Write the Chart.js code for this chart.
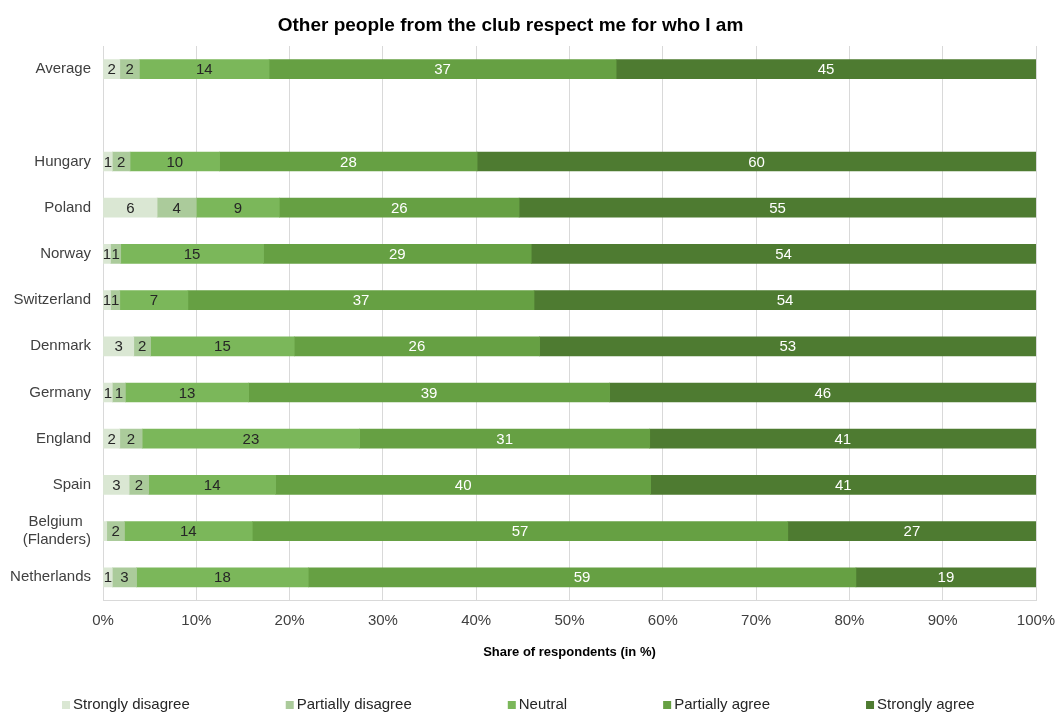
<!DOCTYPE html>
<html><head><meta charset="utf-8">
<script src="https://cdn.jsdelivr.net/npm/chart.js@4"></script>
<style>html,body{margin:0;padding:0;background:#fff}#wrap{position:relative;width:1056px;height:713px}</style>
</head><body><div id="wrap"><canvas id="c" width="1056" height="713"></canvas></div>
<script>
const chartTitle = 'Other people from the club respect me for who I am';
const axisTitle = 'Share of respondents (in %)';
const categories = ['Average', '', 'Hungary', 'Poland', 'Norway', 'Switzerland', 'Denmark', 'Germany', 'England', 'Spain', ['Belgium\u00a0\u00a0', '(Flanders)'], 'Netherlands'];
const seriesNames = ['Strongly disagree', 'Partially disagree', 'Neutral', 'Partially agree', 'Strongly agree'];
const stronglyDisagree  = [1.8, null, 1.0, 5.8, 0.8, 0.8, 3.3, 1.0, 1.8, 2.8, 0.4, 1.0];
const partiallyDisagree = [2.1, null, 1.9, 4.2, 1.1, 1.0, 1.8, 1.4, 2.4, 2.1, 1.9, 2.6];
const neutral           = [13.9, null, 9.6, 8.9, 15.3, 7.3, 15.4, 13.2, 23.3, 13.6, 13.7, 18.4];
const partiallyAgree    = [37.2, null, 27.6, 25.7, 28.7, 37.1, 26.3, 38.7, 31.1, 40.2, 57.4, 58.7];
const stronglyAgree     = [45.0, null, 59.9, 55.4, 54.1, 53.8, 53.2, 45.7, 41.4, 41.3, 26.6, 19.3];
const seriesColors = ['#dae7d3', '#abcb9b', '#7bb75a', '#66a043', '#4e7b31'];
const labelColors = ['#262626', '#262626', '#262626', '#ffffff', '#ffffff'];
const allSeries = [stronglyDisagree, partiallyDisagree, neutral, partiallyAgree, stronglyAgree];
const FONT = '"Liberation Sans", Arial, sans-serif';

const valueLabels = {
  id: 'valueLabels',
  afterDatasetsDraw(chart) {
    const ctx = chart.ctx;
    chart.data.datasets.forEach((ds, i) => {
      const meta = chart.getDatasetMeta(i);
      meta.data.forEach((bar, j) => {
        const v = ds.data[j];
        if (v == null) return;
        const r = Math.round(v);
        if (r < 1) return;
        const p = bar.getProps(['x', 'base', 'y'], true);
        ctx.save();
        ctx.font = '15px ' + FONT;
        ctx.fillStyle = labelColors[i];
        ctx.textAlign = 'center';
        ctx.textBaseline = 'middle';
        ctx.fillText(String(r), (p.x + p.base) / 2, p.y + 1);
        ctx.restore();
      });
    });
  }
};

const titleAndLegend = {
  id: 'titleAndLegend',
  afterDraw(chart) {
    const ctx = chart.ctx;
    ctx.save();
    ctx.font = 'bold 19px ' + FONT;
    ctx.fillStyle = '#000';
    ctx.textAlign = 'center';
    ctx.textBaseline = 'alphabetic';
    ctx.fillText(chartTitle, 510.5, 31);
    ctx.font = '15px ' + FONT;
    ctx.textAlign = 'left';
    ctx.textBaseline = 'middle';
    let x = 62;
    const y = 705;
    seriesNames.forEach((name, i) => {
      ctx.fillStyle = seriesColors[i];
      ctx.fillRect(x, y - 4, 8, 8);
      ctx.fillStyle = '#262626';
      ctx.fillText(name, x + 11, y);
      x += 11 + ctx.measureText(name).width + 96;
    });
    ctx.restore();
  }
};

new Chart(document.getElementById('c'), {
  type: 'bar',
  data: {
    labels: categories,
    datasets: allSeries.map((d, i) => ({
      label: seriesNames[i],
      data: d,
      backgroundColor: seriesColors[i],
      borderWidth: 0,
      barThickness: 19
    }))
  },
  options: {
    indexAxis: 'y',
    responsive: false,
    animation: false,
    devicePixelRatio: 1,
    layout: { padding: { top: 46, right: 20, bottom: 49, left: 0 } },
    plugins: { legend: { display: false }, title: { display: false }, tooltip: { enabled: false } },
    scales: {
      x: {
        stacked: true,
        min: 0, max: 100,
        ticks: { stepSize: 10, callback: v => v + '%', padding: 11, color: '#404040', font: { family: FONT, size: 15 } },
        grid: { color: '#d9d9d9', drawTicks: false },
        border: { color: '#d9d9d9' },
        title: { display: true, text: axisTitle, color: '#000', font: { family: FONT, size: 13, weight: 'bold' }, padding: { top: 4, bottom: 4 } },
        afterFit(scale) { scale.paddingRight = 0; scale.paddingLeft = 0; }
      },
      y: {
        stacked: true,
        grid: { display: false, drawTicks: false },
        border: { display: false },
        ticks: { padding: 12, color: '#404040', font: { family: FONT, size: 15 } },
        afterFit(scale) { scale.width = 103; }
      }
    }
  },
  plugins: [valueLabels, titleAndLegend]
});
</script></body></html>
